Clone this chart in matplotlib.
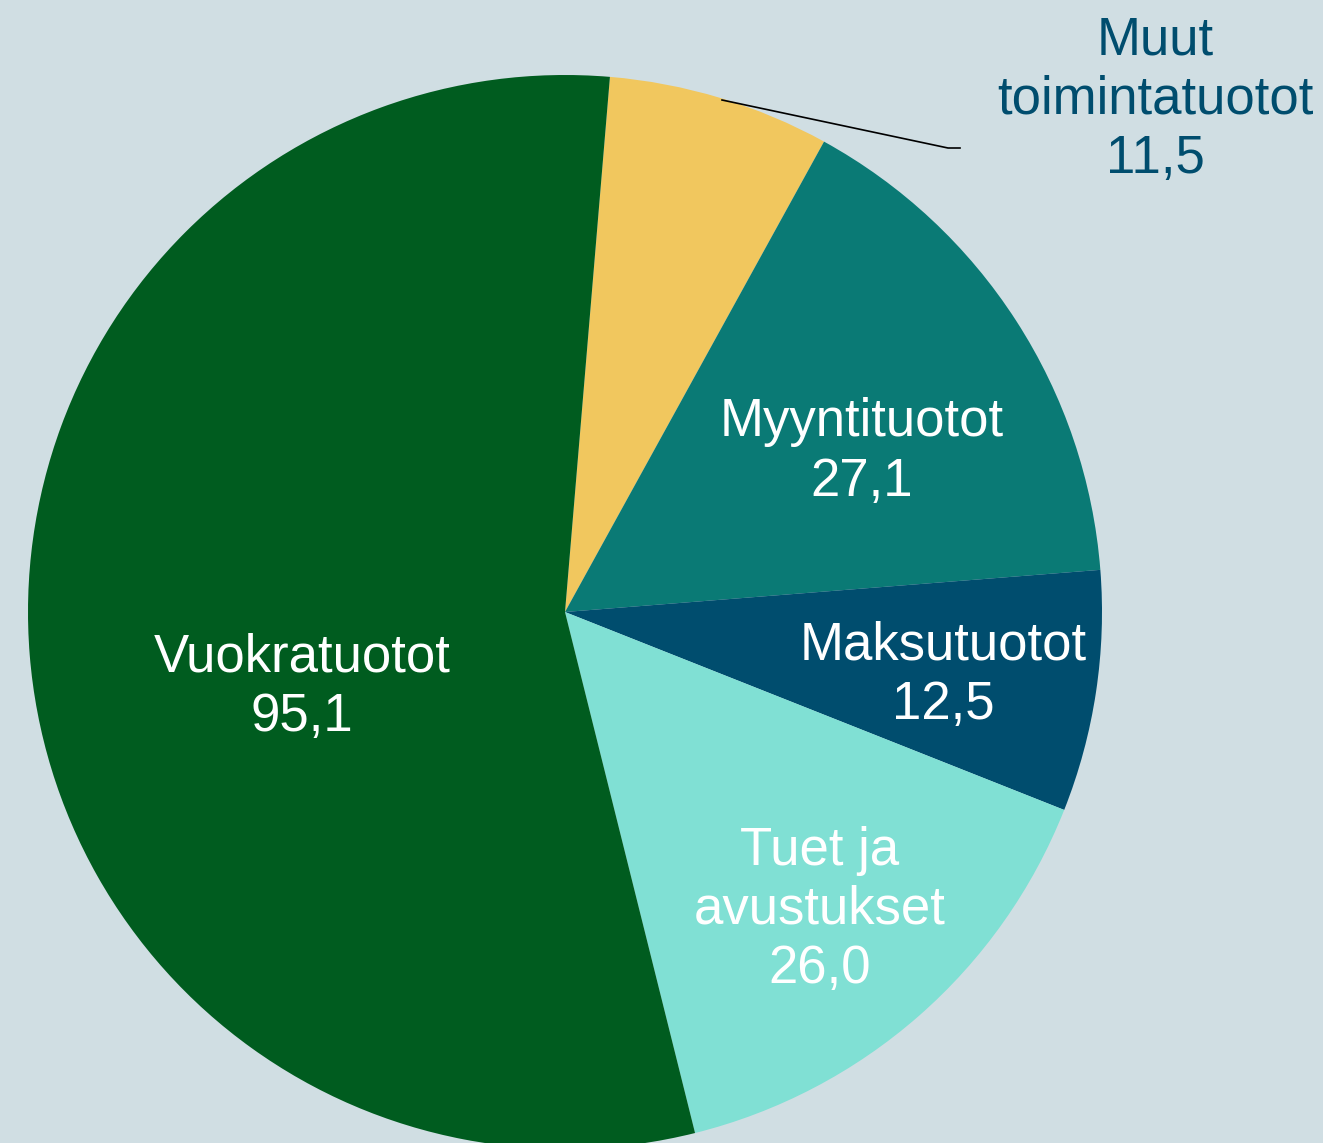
import matplotlib
matplotlib.use("Agg")
import matplotlib.pyplot as plt

categories = ["Muut toimintatuotot", "Myyntituotot", "Maksutuotot", "Tuet ja avustukset", "Vuokratuotot"]
label_lines = ["Muut\ntoimintatuotot", "Myyntituotot", "Maksutuotot", "Tuet ja\navustukset", "Vuokratuotot"]
values = [11.5, 27.1, 12.5, 26.0, 95.1]
colors = ["#F1C75E", "#0A7A75", "#004D6E", "#80E0D4", "#005C1F"]
text_colors = ["#004D6E", "white", "white", "white", "white"]
# label centres in pixel coords (x, y from top)
label_pos = [(1155, 100), (862, 452), (943, 675), (820, 910), (302, 687)]

W, H = 1323, 1143
bg = "#D0DEE3"
plt.rcParams['font.family'] = ['Liberation Sans', 'DejaVu Sans']

fig = plt.figure(figsize=(W / 100, H / 100), dpi=100, facecolor=bg)
ax = fig.add_axes([0, 0, 1, 1])
ax.set_facecolor(bg)

cx, cy, r = 565, H - 612, 537
ax.pie(values, colors=colors, startangle=85.2, counterclock=False,
       center=(cx, cy), radius=r, wedgeprops=dict(linewidth=0))
ax.set_xlim(0, W)
ax.set_ylim(0, H)
ax.set_aspect('equal')
ax.axis('off')

for name, val, (px, py), tc in zip(label_lines, values, label_pos, text_colors):
    txt = name + "\n" + f"{val:.1f}".replace(".", ",")
    ax.text(px, H - py, txt, ha='center', va='center', color=tc,
            fontsize=38, linespacing=1.24)

# leader line for the small slice
ax.plot([722, 948, 960], [H - 100, H - 148, H - 148], color="black", lw=1.2)

fig.savefig("out.png", dpi=100, facecolor=bg)
